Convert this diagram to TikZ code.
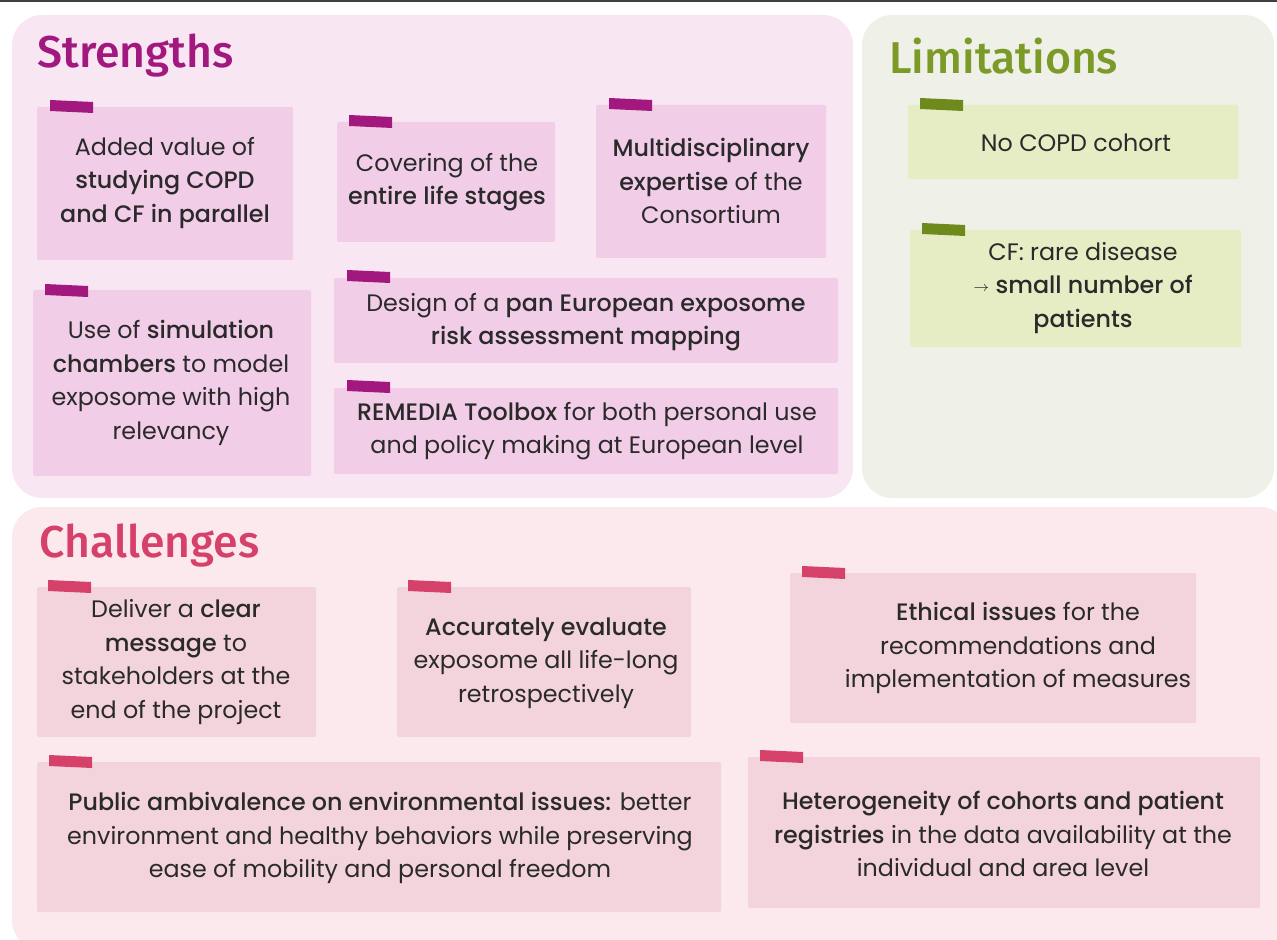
\documentclass[tikz,border=0pt]{standalone}
\usepackage{fontspec}
\setmainfont{Poppins}[BoldFont={Poppins Medium}]
\newfontfamily\headfont{Fira Sans Medium}
\usetikzlibrary{positioning}
\definecolor{strbg}{HTML}{F8E6F2}
\definecolor{strnote}{HTML}{F2CDE7}
\definecolor{strtape}{HTML}{A2187E}
\definecolor{limbg}{HTML}{EFF0E7}
\definecolor{limnote}{HTML}{E6EDC4}
\definecolor{limtape}{HTML}{6F8A1C}
\definecolor{limtitle}{HTML}{7C9A28}
\definecolor{chbg}{HTML}{FCE9EE}
\definecolor{chnote}{HTML}{F4D4DC}
\definecolor{chtape}{HTML}{D6416A}
\definecolor{ink}{HTML}{2A2A2A}
\tikzset{
    panel/.style={rounded corners=15pt},
    note/.style={rounded corners=1pt},
    txt/.style={align=center, text=ink, inner sep=0pt,
        font=\fontsize{11.9}{16.8}\selectfont},
    title/.style={anchor=west, inner sep=0pt, font=\headfont\fontsize{22.3}{25}\selectfont},
    tape/.pic={\fill (0,0) -- (43,2) -- (43,13) -- (0,11) -- cycle;}
}

\begin{document}
\begin{tikzpicture}[x=0.5pt, y=-0.5pt]
    \useasboundingbox (0,0) rectangle (1277,940);
    \fill[black!75] (0,0) rectangle (1277,2);
    % panels
    \fill[panel, strbg] (12,15) rectangle (853,498);
    \fill[panel, limbg] (862,15) rectangle (1274,498);
    \fill[panel, chbg] (12,507) rectangle (1290,950);
    \node[title, text=strtape] (strengths) at (37,56) {Strengths};
    \node[title, text=limtitle] (limitations) at (889,56) {Limitations};
    \node[title, text=chtape] (challenges) at (39,546) {Challenges};
    % strengths
    \fill[note, strnote] (37,107) rectangle (293,260);
    \fill[note, strnote] (337,122) rectangle (555,242);
    \fill[note, strnote] (596,105) rectangle (826,258);
    \fill[note, strnote] (33,290) rectangle (311,476);
    \fill[note, strnote] (334,278) rectangle (838,363);
    \fill[note, strnote] (334,388) rectangle (838,474);
    \pic[strtape] at (50,100) {tape};
    \pic[strtape] at (349,115) {tape};
    \pic[strtape] at (609,98) {tape};
    \pic[strtape] at (45,284) {tape};
    \pic[strtape] at (347,270) {tape};
    \pic[strtape] at (347,380) {tape};
    \node[txt] (s1) at (165,183) {Added value of\\\textbf{studying COPD}\\\textbf{and CF in parallel}};
    \node[txt] (s2) at (447,182) {Covering of the\\\textbf{entire life stages}};
    \node[txt] (s3) at (711,181) {\textbf{Multidisciplinary}\\\textbf{expertise} of the\\Consortium};
    \node[txt] (s4) at (171,383) {Use of \textbf{simulation}\\\textbf{chambers} to model\\exposome with high\\relevancy};
    \node[txt] (s5) at (586,322) {Design of a \textbf{pan European exposome}\\\textbf{risk assessment mapping}};
    \node[txt] (s6) at (587,431) {\textbf{REMEDIA Toolbox} for both personal use\\and policy making at European level};
    % limitations
    \fill[note, limnote] (908,105) rectangle (1238,179);
    \fill[note, limnote] (910,230) rectangle (1241,347);
    \pic[limtape] at (920,98) {tape};
    \pic[limtape] at (922,223) {tape};
    \node[txt] (l1) at (1076,143) {No COPD cohort};
    \node[txt] (l2) at (1083,288) {CF: rare disease\\\raisebox{1pt}{\fontsize{7}{7}\selectfont$\rightarrow$} \textbf{small number of}\\\textbf{patients}};
    % challenges
    \fill[note, chnote] (37,587) rectangle (316,737);
    \fill[note, chnote] (397,587) rectangle (691,737);
    \fill[note, chnote] (790,573) rectangle (1196,723);
    \fill[note, chnote] (37,762) rectangle (721,912);
    \fill[note, chnote] (748,757) rectangle (1260,908);
    \pic[chtape] at (48,580) {tape};
    \pic[chtape] at (408,580) {tape};
    \pic[chtape] at (802,566) {tape};
    \pic[chtape] at (49,755) {tape};
    \pic[chtape] at (760,750) {tape};
    \node[txt] (c1) at (176,662) {Deliver a \textbf{clear}\\\textbf{message} to\\stakeholders at the\\end of the project};
    \node[txt] (c2) at (546,663) {\textbf{Accurately evaluate}\\exposome all life-long\\retrospectively};
    \node[txt] (c3) at (1018,648) {\textbf{Ethical issues} for the\\recommendations and\\implementation of measures};
    \node[txt] (c4) at (380,838) {\textbf{Public ambivalence on environmental issues:} better\\environment and healthy behaviors while preserving\\ease of mobility and personal freedom};
    \node[txt] (c5) at (1003,834) {\textbf{Heterogeneity of cohorts and patient}\\\textbf{registries} in the data availability at the\\individual and area level};
\end{tikzpicture}
\end{document}
